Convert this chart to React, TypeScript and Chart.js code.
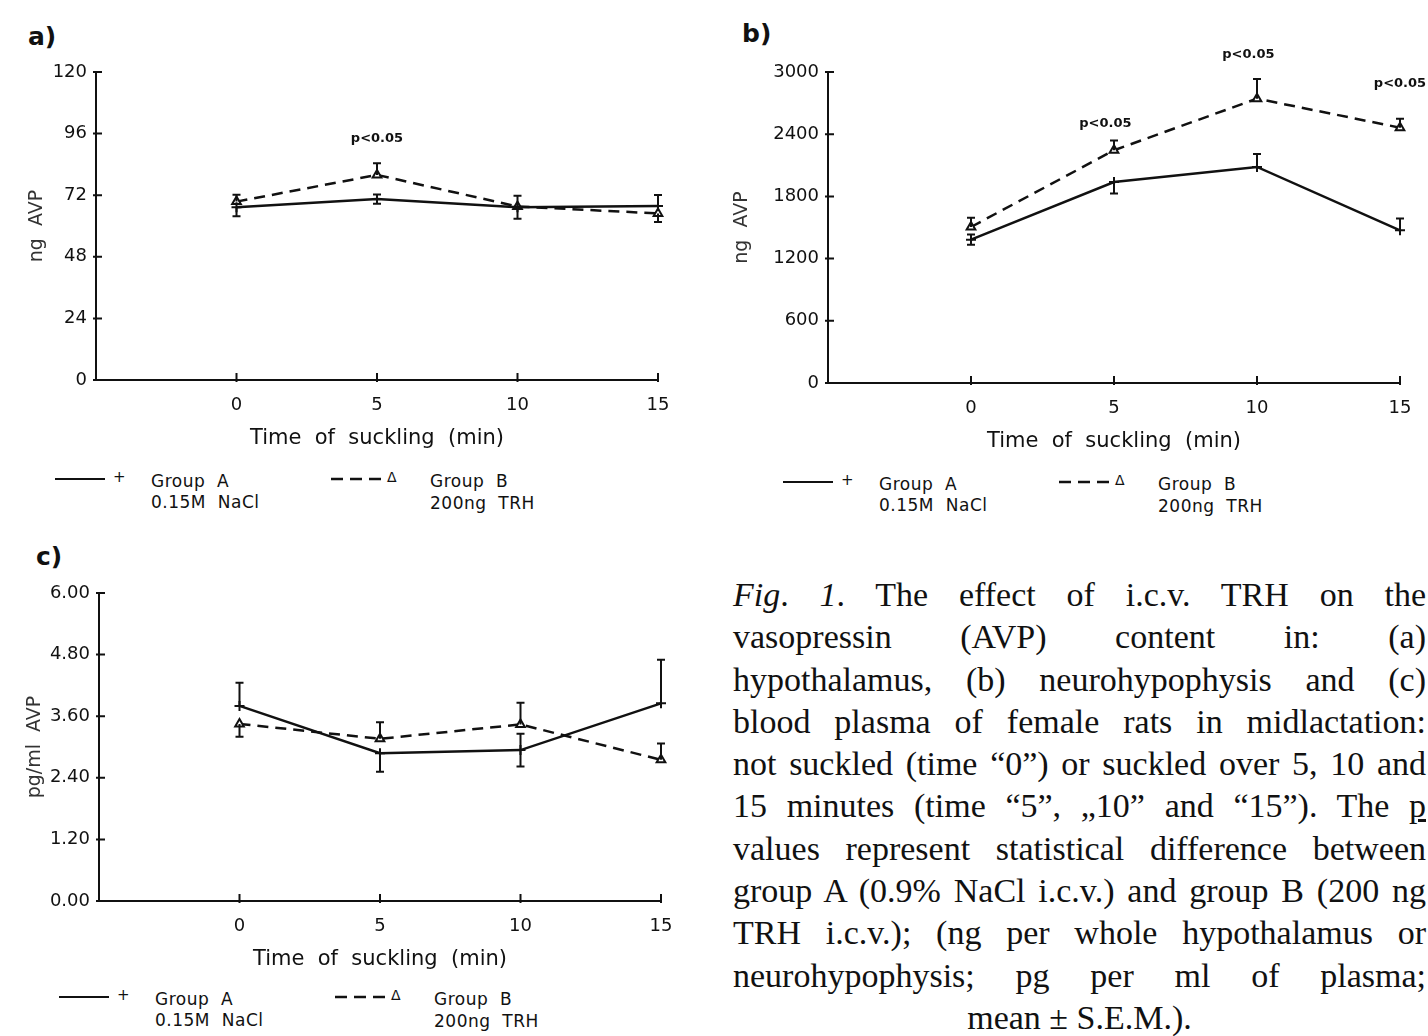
import React, { useEffect, useRef } from 'react';
import { Chart, registerables } from 'chart.js';
Chart.register(...registerables);

const INK = '#111';
const SANS = '"DejaVu Sans", "Liberation Sans", sans-serif';
const SERIF = '"Liberation Serif", "Times New Roman", serif';

// ---------- shared ----------
const times = [0, 5, 10, 15];
const xTicks = [0, 5, 10, 15];
const xTitle = 'Time  of  suckling  (min)';
const sigText = 'p<0.05';

// ---------- panel a: hypothalamus ----------
const aTicks = [0, 24, 48, 72, 96, 120];
const aGroupA = [67.3, 70.5, 67.3, 67.8];
const aGroupB = [69.5, 79.9, 67.6, 64.9];
const aSemA = [3.5, 1.8, 4.5, 4.3];
const aSemB = [2.7, 4.5, 0, 3.3];
const aDirA = ['down', 'both', 'both', 'up'];
const aDirB = ['up', 'up', 'none', 'down'];
const aSigX = [5];
const aSigY = [94];

// ---------- panel b: neurohypophysis ----------
const bTicks = [0, 600, 1200, 1800, 2400, 3000];
const bGroupA = [1383, 1939, 2084, 1473];
const bGroupB = [1505, 2245, 2743, 2463];
const bSemA = [50, 110, 125, 113];
const bSemB = [90, 95, 190, 87];
const bDirA = ['both', 'down', 'up', 'up'];
const bDirB = ['up', 'up', 'up', 'up'];
const bSigX = [4.7, 9.7, 15];
const bSigY = [2505, 3169, 2892];

// ---------- panel c: plasma ----------
const cTicks = [0, 1.2, 2.4, 3.6, 4.8, 6.0];
const cGroupA = [3.8, 2.88, 2.94, 3.85];
const cGroupB = [3.45, 3.16, 3.44, 2.75];
const cSemA = [0.45, 0.36, 0.32, 0.85];
const cSemB = [0.25, 0.32, 0.42, 0.32];
const cDirA = ['up', 'down', 'both', 'up'];
const cDirB = ['down', 'up', 'up', 'up'];
const cSigX: number[] = [];
const cSigY: number[] = [];

const extrasPlugin = {
  id: 'extras',
  afterDatasetsDraw(chart: any, _args: any, opts: any) {
    const { ctx } = chart;
    const x = chart.scales.x;
    const y = chart.scales.y;
    const ca = chart.chartArea;
    ctx.save();
    ctx.strokeStyle = INK;
    ctx.lineWidth = 2;
    // error bars
    (opts.series || []).forEach((s: any) => {
      s.values.forEach((v: number, i: number) => {
        const sem = s.sem[i];
        const dir = s.dir[i];
        if (!sem || dir === 'none') return;
        const px = x.getPixelForValue(times[i]);
        const hi = dir === 'down' ? v : v + sem;
        const lo = dir === 'up' ? v : v - sem;
        const y1 = y.getPixelForValue(hi);
        const y2 = y.getPixelForValue(lo);
        ctx.beginPath();
        ctx.moveTo(px, y1);
        ctx.lineTo(px, y2);
        if (dir !== 'down') { ctx.moveTo(px - 4, y1); ctx.lineTo(px + 4, y1); }
        if (dir !== 'up') { ctx.moveTo(px - 4, y2); ctx.lineTo(px + 4, y2); }
        ctx.stroke();
      });
    });
    // tick marks
    ctx.beginPath();
    y.ticks.forEach((t: any) => {
      const py = y.getPixelForValue(t.value);
      ctx.moveTo(ca.left - 3, py);
      ctx.lineTo(ca.left + 6, py);
    });
    x.ticks.forEach((t: any) => {
      const px = x.getPixelForValue(t.value);
      ctx.moveTo(px, ca.bottom + 2);
      ctx.lineTo(px, ca.bottom - 7);
    });
    ctx.stroke();
    // significance labels
    ctx.fillStyle = INK;
    ctx.font = 'bold 13px ' + SANS;
    ctx.textAlign = 'center';
    ctx.textBaseline = 'middle';
    (opts.sigX || []).forEach((sx: number, i: number) => {
      ctx.fillText(sigText, x.getPixelForValue(sx), y.getPixelForValue(opts.sigY[i]));
    });
    ctx.restore();
  },
};

function buildConfig(p: any) {
  const toPts = (vals: number[]) => vals.map((v, i) => ({ x: times[i], y: v }));
  return {
    type: 'line',
    data: {
      datasets: [
        {
          label: 'Group A',
          data: toPts(p.groupA),
          borderColor: INK,
          borderWidth: 2.5,
          pointStyle: 'cross',
          pointRadius: 5,
          pointBorderWidth: 2,
          pointBorderColor: INK,
          tension: 0,
          clip: false,
        },
        {
          label: 'Group B',
          data: toPts(p.groupB),
          borderColor: INK,
          borderWidth: 2.5,
          borderDash: [11, 7],
          pointStyle: 'triangle',
          pointRadius: 5,
          pointBorderWidth: 2,
          pointBorderColor: INK,
          pointBackgroundColor: '#fff',
          tension: 0,
          clip: false,
        },
      ],
    },
    options: {
      animation: false,
      responsive: false,
      maintainAspectRatio: false,
      devicePixelRatio: 1,
      layout: { padding: { top: p.padTop, right: p.padRight, left: 0, bottom: 0 } },
      plugins: {
        legend: { display: false },
        tooltip: { enabled: false },
        extras: {
          series: [
            { values: p.groupA, sem: p.semA, dir: p.dirA },
            { values: p.groupB, sem: p.semB, dir: p.dirB },
          ],
          sigX: p.sigX,
          sigY: p.sigY,
        },
      },
      scales: {
        x: {
          type: 'linear',
          min: -5,
          max: 15,
          afterBuildTicks: (s: any) => { s.ticks = xTicks.map((v) => ({ value: v })); },
          afterFit: (s: any) => { s.height = 80; },
          grid: { display: false, drawTicks: false },
          border: { display: true, color: INK, width: 2 },
          ticks: { color: INK, font: { family: SANS, size: 18 }, padding: 15, maxRotation: 0 },
          title: {
            display: true,
            text: xTitle,
            color: INK,
            font: { family: SANS, size: 21 },
            padding: { top: 0, bottom: 9 },
          },
        },
        y: {
          type: 'linear',
          min: 0,
          max: p.yTicks[p.yTicks.length - 1],
          afterBuildTicks: (s: any) => { s.ticks = p.yTicks.map((v: number) => ({ value: v })); },
          afterFit: (s: any) => { s.width = p.yWidth; },
          grid: { display: false, drawTicks: false },
          border: { display: true, color: INK, width: 2 },
          ticks: {
            color: INK,
            font: { family: SANS, size: 18 },
            padding: 9,
            callback: (v: number) => p.fmt(v),
          },
          title: {
            display: true,
            text: p.yLabel,
            color: '#333',
            font: { family: SANS, size: 19 },
            padding: { top: p.yTitlePad, bottom: 0 },
          },
        },
      },
    },
    plugins: [extrasPlugin],
  };
}

function ChartPanel(props: { cfg: any; left: number; top: number; width: number; height: number }) {
  const ref = useRef<HTMLCanvasElement>(null);
  useEffect(() => {
    const chart = new Chart(ref.current as HTMLCanvasElement, buildConfig(props.cfg) as any);
    return () => chart.destroy();
  }, []);
  return (
    <canvas
      ref={ref}
      width={props.width}
      height={props.height}
      style={{ position: 'absolute', left: props.left, top: props.top, width: props.width, height: props.height }}
    />
  );
}

const abs = (left: number, top: number, extra: any = {}) => ({ position: 'absolute' as const, left, top, ...extra });

function Legend(props: { ox: number; oy: number }) {
  const { ox, oy } = props;
  const txt = { fontFamily: SANS, fontSize: 17, letterSpacing: 0.5, color: INK, lineHeight: '20px', whiteSpace: 'pre' as const };
  return (
    <>
      <div style={abs(ox, oy - 1, { width: 50, borderTop: `2.5px solid ${INK}` })} />
      <div style={abs(ox + 58, oy - 12, { ...txt, fontSize: 15 })}>+</div>
      <div style={abs(ox + 96, oy - 8, txt)}>{'Group  A'}</div>
      <div style={abs(ox + 96, oy + 13, txt)}>{'0.15M  NaCl'}</div>
      <svg style={abs(ox + 276, oy - 3)} width={52} height={6}>
        <line x1={0} y1={3} x2={52} y2={3} stroke={INK} strokeWidth={2.5} strokeDasharray="12 7" />
      </svg>
      <div style={abs(ox + 332, oy - 12, { ...txt, fontSize: 14 })}>Δ</div>
      <div style={abs(ox + 375, oy - 8, txt)}>{'Group  B'}</div>
      <div style={abs(ox + 375, oy + 14, txt)}>{'200ng  TRH'}</div>
    </>
  );
}

const fmtInt = (v: number) => String(v);
const fmt2 = (v: number) => v.toFixed(2);

const panelA = {
  yTicks: aTicks, groupA: aGroupA, groupB: aGroupB, semA: aSemA, semB: aSemB, dirA: aDirA, dirB: aDirB,
  sigX: aSigX, sigY: aSigY, yLabel: 'ng  AVP', fmt: fmtInt, padTop: 72, padRight: 42, yWidth: 96, yTitlePad: 26,
};
const panelB = {
  yTicks: bTicks, groupA: bGroupA, groupB: bGroupB, semA: bSemA, semB: bSemB, dirA: bDirA, dirB: bDirB,
  sigX: bSigX, sigY: bSigY, yLabel: 'ng  AVP', fmt: fmtInt, padTop: 72, padRight: 28, yWidth: 114, yTitlePad: 17,
};
const panelC = {
  yTicks: cTicks, groupA: cGroupA, groupB: cGroupB, semA: cSemA, semB: cSemB, dirA: cDirA, dirB: cDirB,
  sigX: cSigX, sigY: cSigY, yLabel: 'pg/ml  AVP', fmt: fmt2, padTop: 73, padRight: 39, yWidth: 99, yTitlePad: 24,
};

const captionLines = [
  'The effect of i.c.v. TRH on the',
  'vasopressin (AVP) content in: (a)',
  'hypothalamus, (b) neurohypophysis and (c)',
  'blood plasma of female rats in midlactation:',
  'not suckled (time “0”) or suckled over 5, 10 and',
  '15 minutes (time “5”, „10” and “15”). The ',
  'values represent statistical difference between',
  'group A (0.9% NaCl i.c.v.) and group B (200 ng',
  'TRH i.c.v.); (ng per whole hypothalamus or',
  'neurohypophysis; pg per ml of plasma;',
  'mean ± S.E.M.).',
];

export default function App() {
  const label = { fontFamily: SANS, fontWeight: 'bold' as const, fontSize: 25, color: INK, lineHeight: '30px' };
  const lineStyle = {
    height: 42.3,
    lineHeight: '42.3px',
    textAlign: 'justify' as const,
    textAlignLast: 'justify' as const,
    whiteSpace: 'normal' as const,
    overflow: 'visible' as const,
  };
  return (
    <div style={{ position: 'absolute', left: 0, top: 0, width: 1428, height: 1036, background: '#fff', overflow: 'hidden' }}>
      <div style={abs(28, 22, label)}>a)</div>
      <div style={abs(742, 19, label)}>b)</div>
      <div style={abs(36, 542, label)}>c)</div>

      <ChartPanel cfg={panelA} left={0} top={0} width={700} height={460} />
      <ChartPanel cfg={panelB} left={714} top={0} width={714} height={463} />
      <ChartPanel cfg={panelC} left={0} top={520} width={700} height={461} />

      <Legend ox={55} oy={479} />
      <Legend ox={783} oy={482} />
      <Legend ox={59} oy={997} />

      <div style={abs(733, 574, { width: 693, fontFamily: SERIF, fontSize: 34, color: INK })}>
        {captionLines.map((t, i) => {
          if (i === 0) {
            return (
              <div key={i} style={lineStyle}>
                <i>Fig</i>. <i>1</i>. {t}
              </div>
            );
          }
          if (i === 5) {
            return (
              <div key={i} style={lineStyle}>
                {t}<u>p</u>
              </div>
            );
          }
          if (i === captionLines.length - 1) {
            return (
              <div key={i} style={{ ...lineStyle, textAlign: 'center', textAlignLast: 'center' }}>
                {t}
              </div>
            );
          }
          return (
            <div key={i} style={lineStyle}>
              {t}
            </div>
          );
        })}
      </div>
    </div>
  );
}
